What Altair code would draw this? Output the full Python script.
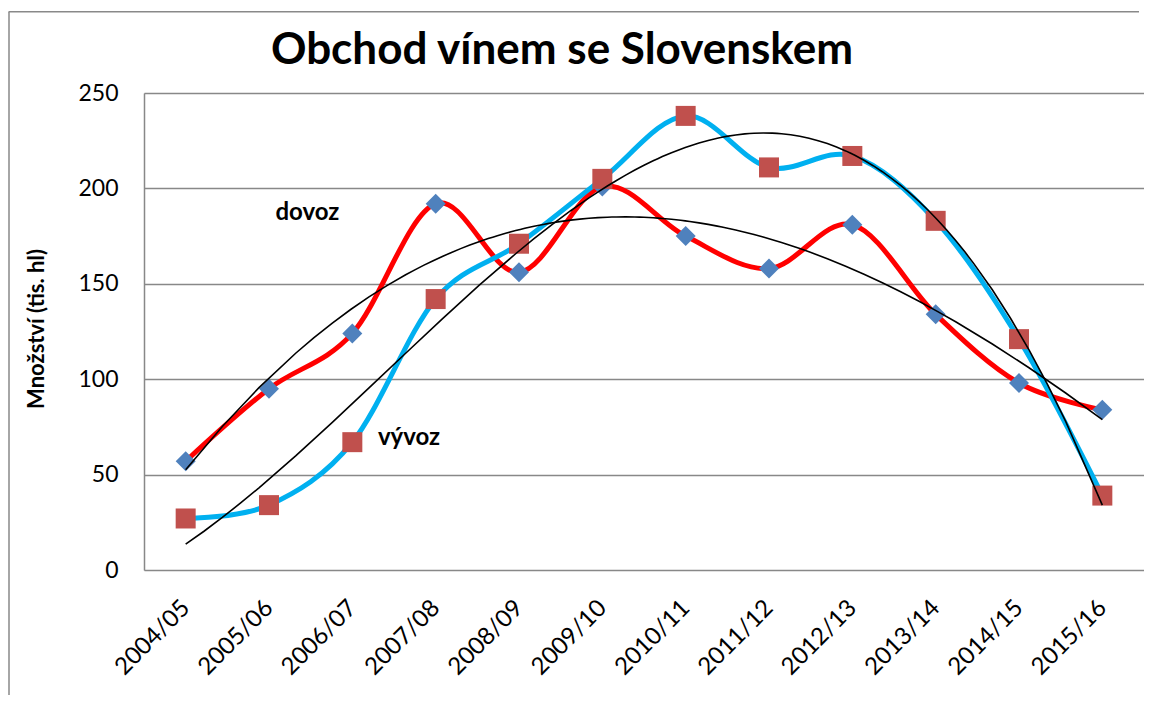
import json
import altair as alt
import pandas as pd

categories = ["2004/05", "2005/06", "2006/07", "2007/08", "2008/09", "2009/10",
              "2010/11", "2011/12", "2012/13", "2013/14", "2014/15", "2015/16"]
dovoz = [57, 95, 124, 192, 156, 201, 175, 158, 181, 134, 98, 84]
vyvoz = [27, 34, 67, 142, 171, 205, 238, 211, 217, 183, 121, 39]

label_text = ["dovoz", "vývoz"]
label_x = [1.46, 2.68]
label_y = [187, 69]

TITLE = "Obchod vínem se Slovenskem"
FONT = "Lato"
W, H = 1000, 477

idx = list(range(len(categories)))
df_d = pd.DataFrame({"i": idx, "v": dovoz, "cat": categories})
df_v = pd.DataFrame({"i": idx, "v": vyvoz, "cat": categories})
df_lab = pd.DataFrame({"t": label_text, "i": label_x, "v": label_y})

label_expr = json.dumps(categories) + "[round(datum.value)]"

x_enc = alt.X("i:Q",
              scale=alt.Scale(domain=[-0.5, len(categories) - 0.5], nice=False, zero=False),
              axis=alt.Axis(values=idx, labelExpr=label_expr, labelAngle=-45,
                            labelAlign="right", labelBaseline="middle",
                            labelFont=FONT, labelFontSize=24, labelColor="#000000",
                            labelPadding=34, grid=False, domain=False, ticks=False,
                            title=None, labelOverlap=False))
y_enc = alt.Y("v:Q",
              scale=alt.Scale(domain=[0, 250], nice=False),
              axis=alt.Axis(values=[0, 50, 100, 150, 200, 250], grid=True,
                            gridColor="#888888", gridWidth=1.5,
                            domain=True, domainColor="#888888", domainWidth=1.5,
                            ticks=False, labelFont=FONT, labelFontSize=23,
                            labelColor="#000000", labelPadding=26,
                            title="Množství (tis. hl)", titleFont=FONT,
                            titleFontSize=22, titleFontWeight="bold",
                            titleColor="#000000", titleAngle=-90,
                            titleX=-108, titleY=H / 2 - 3, titleAlign="center",
                            titleBaseline="middle"))

base_d = alt.Chart(df_d)
base_v = alt.Chart(df_v)

red_line = base_d.mark_line(color="#FF0000", strokeWidth=5, interpolate="cardinal").encode(x=x_enc, y=y_enc)
diamonds = base_d.mark_point(shape="diamond", filled=True, size=400, color="#4F81BD", opacity=1).encode(x="i:Q", y="v:Q")
blue_line = base_v.mark_line(color="#00B0F0", strokeWidth=5, interpolate="cardinal").encode(x="i:Q", y="v:Q")
squares = base_v.mark_point(shape="square", filled=True, size=400, color="#C0504D", opacity=1).encode(x="i:Q", y="v:Q")

trend_d = base_d.transform_regression("i", "v", method="poly", order=3).mark_line(
    color="#000000", strokeWidth=1.6).encode(x="i:Q", y="v:Q")
trend_v = base_v.transform_regression("i", "v", method="poly", order=3).mark_line(
    color="#000000", strokeWidth=1.6).encode(x="i:Q", y="v:Q")

labels = alt.Chart(df_lab).mark_text(font=FONT, fontSize=24, fontWeight="bold",
                                     color="#000000", align="center", baseline="middle").encode(
    x="i:Q", y="v:Q", text="t:N")

one = alt.Data(values=[{"t": TITLE}])
title_mark = alt.Chart(one).mark_text(font=FONT, fontSize=44, fontWeight="bold",
                                      color="#000000", align="center",
                                      baseline="alphabetic").encode(
    x=alt.value(W / 2 - 82), y=alt.value(-29), text="t:N")

frame_left = alt.Chart(one).mark_rule(stroke="#898989", strokeWidth=1.5).encode(
    x=alt.value(-135), y=alt.value(-81), y2=alt.value(H + 200))
frame_top = alt.Chart(one).mark_rect(fill="#898989", strokeWidth=0).encode(
    x=alt.value(-135.5), x2=alt.value(995), y=alt.value(-82), y2=alt.value(-80.5))

chart = alt.layer(frame_left, frame_top, red_line, diamonds, blue_line, squares,
                  trend_d, trend_v, labels, title_mark).properties(
    width=W, height=H,
    autosize=alt.AutoSizeParams(type="none"),
    padding={"left": 136, "top": 85, "right": 0, "bottom": 125},
).configure_view(stroke=None).configure(background="#ffffff")

chart.save("out.html", embed_options={"renderer": "svg", "actions": False})
